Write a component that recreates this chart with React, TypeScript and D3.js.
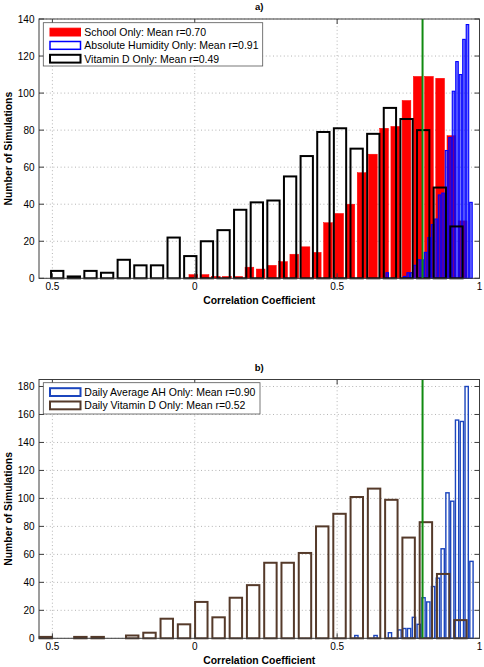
import React from "react";
import * as d3 from "d3";

// ---------- data ----------
const xTickValues = [-0.5, 0, 0.5, 1];
const xTickLabels = ["0.5", "0", "0.5", "1"];
const topYTicks = [0, 20, 40, 60, 80, 100, 120, 140];
const bottomYTicks = [0, 20, 40, 60, 80, 100, 120, 140, 160, 180];
const thresholdR = 0.8;

// panel a) histograms (25 bins each): first bin centre, bin width, counts
const schoolFirst = -0.005;
const schoolStep = 0.0394;
const schoolCounts = [2, 2, 1, 1, 1, 6, 5, 7, 9, 13, 17, 14, 30, 35, 40, 57, 67, 81, 82, 96, 109, 109, 108, 77, 31];

const ahFirst = 0.676;
const ahStep = 0.01225;
const ahCounts = [3, 0, 0, 0, 0, 1, 3, 3, 7, 10, 10, 14, 22, 29, 32, 45, 46, 69, 76, 101, 117, 110, 129, 137, 41];

const vitFirst = -0.483;
const vitStep = 0.05842;
const vitCounts = [4, 1, 4, 3, 10, 7, 7, 22, 12, 20, 26, 37, 41, 42, 55, 66, 79, 81, 70, 78, 92, 86, 80, 49, 28];

// panel b)
const dailyAhFirst = 0.5676;
const dailyAhStep = 0.01684;
const dailyAhCounts = [2, 0, 0, 0, 2, 0, 0, 4, 0, 6, 7, 7, 15, 10, 29, 26, 37, 43, 64, 104, 98, 156, 155, 180, 55];

const dailyVitFirst = -0.523;
const dailyVitStep = 0.06067;
const dailyVitCounts = [1, 0, 1, 1, 0, 2, 4, 14, 10, 26, 15, 29, 38, 54, 54, 61, 80, 89, 101, 107, 99, 72, 83, 46, 13];

const topLegend = [
  "School Only: Mean r=0.70",
  "Absolute Humidity Only: Mean r=0.91",
  "Vitamin D Only: Mean r=0.49",
];
const bottomLegend = [
  "Daily Average AH Only: Mean r=0.90",
  "Daily Vitamin D Only: Mean r=0.52",
];

// ---------- styling ----------
const FONT = "'Liberation Sans', Arial, Helvetica, sans-serif";
const AXIS = "#3c3c3c";
const GRID = "#b4b4b4";

type Series = {
  first: number;
  step: number;
  counts: number[];
  frac: number;
  fill: string;
  fillOpacity: number;
  stroke: string;
  strokeWidth: number;
};

type LegendItem = {
  label: string;
  fill: string;
  stroke: string;
  strokeWidth: number;
};

const L = 39;
const R = 479.5;
const x = d3.scaleLinear().domain([-0.547, 1.0]).range([L, R]);

function Panel(props: {
  top: number;
  bottom: number;
  yMax: number;
  yTicks: number[];
  series: Series[];
  legend: LegendItem[];
  legendBox: { x: number; y: number; w: number; h: number };
  title: string;
}) {
  const { top, bottom, yMax, yTicks, series, legend, legendBox, title } = props;
  const y = d3.scaleLinear().domain([0, yMax]).range([bottom, top]);
  const tl = 5;
  return (
    <g>
      {/* grid */}
      {xTickValues.map((v, i) => (
        <line key={"gx" + i} x1={x(v)} x2={x(v)} y1={top} y2={bottom} stroke={GRID} strokeWidth={1} strokeDasharray="1,2.6" />
      ))}
      {yTicks.map((v, i) => (
        <line key={"gy" + i} x1={L} x2={R} y1={y(v)} y2={y(v)} stroke={GRID} strokeWidth={1} strokeDasharray="1,2.6" />
      ))}
      {/* bars */}
      {series.map((s, si) => (
        <g key={"s" + si}>
          {s.counts.map((c, i) => {
            const center = s.first + i * s.step;
            const x0 = x(center - (s.step * s.frac) / 2);
            const x1 = x(center + (s.step * s.frac) / 2);
            return (
              <rect
                key={i}
                x={x0}
                y={y(c)}
                width={x1 - x0}
                height={y(0) - y(c)}
                fill={s.fill}
                fillOpacity={s.fillOpacity}
                stroke={s.stroke}
                strokeWidth={s.strokeWidth}
              />
            );
          })}
        </g>
      ))}
      {/* threshold line */}
      <line x1={x(thresholdR)} x2={x(thresholdR)} y1={top} y2={bottom} stroke="#108a10" strokeWidth={2} />
      {/* axes box */}
      <rect x={L} y={top} width={R - L} height={bottom - top} fill="none" stroke={AXIS} strokeWidth={1} />
      {xTickValues.map((v, i) => (
        <g key={"tx" + i}>
          <line x1={x(v)} x2={x(v)} y1={bottom} y2={bottom - tl} stroke={AXIS} />
          <line x1={x(v)} x2={x(v)} y1={top} y2={top + tl} stroke={AXIS} />
          <text x={x(v)} y={bottom + 12} fontSize={10} textAnchor="middle" fontFamily={FONT} fill="#000">
            {xTickLabels[i]}
          </text>
        </g>
      ))}
      {yTicks.map((v, i) => (
        <g key={"ty" + i}>
          <line x1={L} x2={L + tl} y1={y(v)} y2={y(v)} stroke={AXIS} />
          <line x1={R} x2={R - tl} y1={y(v)} y2={y(v)} stroke={AXIS} />
          <text x={L - 4.5} y={y(v) + 3.6} fontSize={10} textAnchor="end" fontFamily={FONT} fill="#000">
            {v}
          </text>
        </g>
      ))}
      <text x={(L + R) / 2} y={bottom + 25.5} fontSize={10.4} fontWeight="bold" textAnchor="middle" fontFamily={FONT}>
        Correlation Coefficient
      </text>
      <text
        transform={`translate(11.5,${(top + bottom) / 2}) rotate(-90)`}
        fontSize={10.4}
        fontWeight="bold"
        textAnchor="middle"
        fontFamily={FONT}
      >
        Number of Simulations
      </text>
      <text x={(L + R) / 2} y={top - 9} fontSize={9.5} fontWeight="bold" textAnchor="middle" fontFamily={FONT}>
        {title}
      </text>
      {/* legend */}
      <rect x={legendBox.x} y={legendBox.y} width={legendBox.w} height={legendBox.h} fill="#fff" stroke="#555" strokeWidth={0.8} />
      {legend.map((it, i) => {
        const cy = legendBox.y + 9.4 + i * 13.3;
        return (
          <g key={"lg" + i}>
            <rect x={50} y={cy - 3.9} width={30.5} height={7.8} fill={it.fill} stroke={it.stroke} strokeWidth={it.strokeWidth} />
            <text x={84.3} y={cy + 3.8} fontSize={10.5} fontFamily={FONT} fill="#000">
              {it.label}
            </text>
          </g>
        );
      })}
    </g>
  );
}

export default function App() {
  const topSeries: Series[] = [
    { first: schoolFirst, step: schoolStep, counts: schoolCounts, frac: 0.78, fill: "#ff0000", fillOpacity: 1, stroke: "#ff0000", strokeWidth: 0.5 },
    { first: ahFirst, step: ahStep, counts: ahCounts, frac: 0.72, fill: "#0000ff", fillOpacity: 0.55, stroke: "#0000ff", strokeWidth: 1.1 },
    { first: vitFirst, step: vitStep, counts: vitCounts, frac: 0.74, fill: "none", fillOpacity: 0, stroke: "#000000", strokeWidth: 2 },
  ];
  const bottomSeries: Series[] = [
    { first: dailyAhFirst, step: dailyAhStep, counts: dailyAhCounts, frac: 0.68, fill: "none", fillOpacity: 0, stroke: "#1b45bd", strokeWidth: 1.4 },
    { first: dailyVitFirst, step: dailyVitStep, counts: dailyVitCounts, frac: 0.72, fill: "none", fillOpacity: 0, stroke: "#553a2a", strokeWidth: 2 },
  ];
  const topLegendItems: LegendItem[] = [
    { label: topLegend[0], fill: "#ff0000", stroke: "#ff0000", strokeWidth: 1 },
    { label: topLegend[1], fill: "#ffffff", stroke: "#0000ff", strokeWidth: 1.5 },
    { label: topLegend[2], fill: "#ffffff", stroke: "#000000", strokeWidth: 2 },
  ];
  const bottomLegendItems: LegendItem[] = [
    { label: bottomLegend[0], fill: "#ffffff", stroke: "#1b45bd", strokeWidth: 2 },
    { label: bottomLegend[1], fill: "#ffffff", stroke: "#553a2a", strokeWidth: 2 },
  ];
  return (
    <svg
      width={484}
      height={667}
      viewBox="0 0 484 667"
      style={{ position: "absolute", left: 0, top: 0, background: "#fff" }}
    >
      <Panel
        top={19}
        bottom={278.3}
        yMax={140}
        yTicks={topYTicks}
        series={topSeries}
        legend={topLegendItems}
        legendBox={{ x: 43.3, y: 22.7, w: 219.4, h: 43.3 }}
        title="a)"
      />
      <Panel
        top={379.5}
        bottom={638.3}
        yMax={185}
        yTicks={bottomYTicks}
        series={bottomSeries}
        legend={bottomLegendItems}
        legendBox={{ x: 43.3, y: 382.7, w: 216.7, h: 31.3 }}
        title="b)"
      />
    </svg>
  );
}
